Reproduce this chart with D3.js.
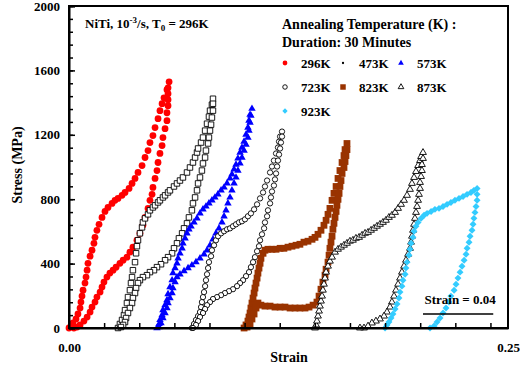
<!DOCTYPE html>
<html lang="en">
<head>
<meta charset="UTF-8">
<script src="https://cdn.jsdelivr.net/npm/d3@7"></script>
<style>
  body { margin: 0; background: #fff; }
  svg text { font-family: "Liberation Serif", "Times New Roman", serif; font-weight: bold; fill: #000; }
</style>
</head>
<body>
<div id="chart"></div>
<script>
// [strain, stress MPa]; loading branch then unloading branch
const k296Load = [[0,0],[.0011,12],[.0023,31],[.0040,56],[.0051,87],[.0063,124],[.0068,161],[.0074,198],[.0080,235],[.0091,279],[.0097,316],[.0103,359],[.0108,402],[.0120,446],[.0131,483],[.0142,526],[.0148,563],[.0159,607],[.0171,644],[.0188,687],[.0205,724],[.0222,749],[.0245,774],[.0262,793],[.0279,805],[.0302,824],[.0319,842],[.0342,867],[.0359,898],[.0376,929],[.0393,966],[.0416,1009],[.0433,1059],[.0450,1102],[.0461,1152],[.0478,1195],[.0490,1245],[.0507,1300],[.0518,1350],[.0530,1393],[.0541,1430],[.0558,1480],[.0570,1529]];
const k296Unload = [[.0564,1492],[.0564,1455],[.0564,1418],[.0564,1381],[.0558,1337],[.0558,1288],[.0547,1238],[.0535,1183],[.0530,1133],[.0518,1084],[.0507,1028],[.0501,978],[.0490,929],[.0478,873],[.0473,830],[.0461,793],[.0450,743],[.0433,687],[.0421,638],[.0404,588],[.0387,545],[.0364,502],[.0347,471],[.0330,440],[.0308,421],[.0290,402],[.0268,378],[.0251,359],[.0233,341],[.0216,316],[.0199,285],[.0188,254],[.0177,223],[.0159,192],[.0148,161],[.0131,130],[.0120,99],[.0103,68],[.0085,43],[.0063,19],[.0046,6],[.0028,0]];

const k473Load = [[.0279,0],[.0290,25],[.0302,50],[.0313,80],[.0319,111],[.0330,155],[.0336,192],[.0347,235],[.0353,279],[.0359,316],[.0364,359],[.0376,409],[.0382,464],[.0387,508],[.0393,545],[.0404,588],[.0416,625],[.0421,656],[.0433,681],[.0450,706],[.0461,731],[.0478,749],[.0490,762],[.0507,780],[.0518,793],[.0535,811],[.0547,824],[.0564,842],[.0575,855],[.0598,879],[.0615,898],[.0632,916],[.0649,935],[.0672,966],[.0689,997],[.0706,1028],[.0718,1059],[.0729,1090],[.0735,1115],[.0752,1152],[.0763,1183],[.0775,1226],[.0786,1269],[.0797,1313],[.0803,1350],[.0814,1387],[.0820,1424]];
const k473Unload = [[.0820,1393],[.0820,1350],[.0814,1307],[.0809,1263],[.0803,1226],[.0797,1183],[.0792,1146],[.0780,1102],[.0775,1059],[.0763,1022],[.0757,978],[.0746,935],[.0735,898],[.0729,855],[.0718,811],[.0706,774],[.0700,731],[.0683,687],[.0672,650],[.0655,619],[.0644,588],[.0626,557],[.0615,526],[.0598,495],[.0587,464],[.0564,440],[.0547,421],[.0524,396],[.0501,378],[.0484,359],[.0461,347],[.0444,328],[.0421,316],[.0404,297],[.0393,279],[.0382,248],[.0376,217],[.0364,186],[.0359,155],[.0347,124],[.0336,93],[.0325,62],[.0319,37],[.0308,19],[.0296,6]];

const k573Load = [[.0501,0],[.0513,25],[.0518,50],[.0530,80],[.0535,111],[.0547,142],[.0558,173],[.0564,211],[.0575,254],[.0587,297],[.0592,341],[.0604,372],[.0615,402],[.0621,433],[.0632,464],[.0644,495],[.0649,526],[.0661,557],[.0672,588],[.0683,613],[.0695,632],[.0712,656],[.0729,681],[.0746,712],[.0763,737],[.0780,755],[.0797,774],[.0814,793],[.0831,811],[.0848,830],[.0866,855],[.0883,873],[.0900,898],[.0917,929],[.0928,954],[.0940,985],[.0951,1015],[.0962,1053],[.0974,1090],[.0985,1121],[.0997,1158],[.1008,1201],[.1019,1245],[.1025,1288],[.1031,1325],[.1042,1362]];
const k573Unload = [[.1036,1319],[.1031,1276],[.1025,1226],[.1019,1183],[.1008,1139],[.0997,1102],[.0985,1059],[.0974,1022],[.0962,978],[.0951,935],[.0940,898],[.0928,855],[.0917,811],[.0905,774],[.0894,731],[.0883,694],[.0871,656],[.0854,619],[.0837,588],[.0820,551],[.0803,514],[.0786,483],[.0769,458],[.0746,433],[.0723,409],[.0700,390],[.0678,372],[.0655,353],[.0632,334],[.0615,316],[.0604,285],[.0592,248],[.0587,217],[.0575,186],[.0564,155],[.0558,124],[.0547,93],[.0535,62],[.0524,31],[.0513,6]];

const k723Load = [[.0700,0],[.0712,25],[.0723,50],[.0735,74],[.0746,99],[.0752,130],[.0757,161],[.0763,192],[.0769,223],[.0775,260],[.0780,297],[.0786,334],[.0792,372],[.0797,409],[.0809,446],[.0814,483],[.0826,514],[.0837,545],[.0849,570],[.0866,588],[.0883,601],[.0900,613],[.0917,619],[.0934,632],[.0951,644],[.0968,656],[.0985,663],[.1002,675],[.1019,694],[.1036,712],[.1054,737],[.1071,768],[.1088,805],[.1105,842],[.1116,879],[.1128,916],[.1145,966],[.1156,1003],[.1167,1040],[.1179,1084],[.1190,1121],[.1196,1158],[.1202,1189],[.1213,1220]];
const k723Unload = [[.1213,1189],[.1207,1152],[.1202,1115],[.1196,1077],[.1190,1040],[.1185,1003],[.1179,960],[.1173,923],[.1167,885],[.1156,848],[.1150,811],[.1145,774],[.1133,731],[.1128,694],[.1116,656],[.1111,619],[.1099,582],[.1088,545],[.1082,508],[.1071,477],[.1059,440],[.1048,409],[.1036,378],[.1025,347],[.1008,322],[.0991,297],[.0974,279],[.0957,260],[.0934,241],[.0911,229],[.0888,217],[.0866,204],[.0843,192],[.0820,180],[.0803,161],[.0786,142],[.0775,118],[.0763,93],[.0746,68],[.0735,43],[.0723,19],[.0706,0]];

const k823Load = [[.0997,0],[.1008,19],[.1019,43],[.1025,68],[.1031,93],[.1036,124],[.1042,155],[.1048,186],[.1054,217],[.1059,248],[.1065,279],[.1071,310],[.1076,341],[.1082,372],[.1088,402],[.1093,433],[.1105,464],[.1116,483],[.1133,489],[.1156,489],[.1179,489],[.1202,495],[.1224,495],[.1247,502],[.1270,508],[.1293,514],[.1315,520],[.1338,533],[.1361,539],[.1384,551],[.1401,563],[.1418,582],[.1435,607],[.1452,638],[.1464,669],[.1475,706],[.1486,743],[.1498,793],[.1509,836],[.1521,879],[.1532,929],[.1543,978],[.1555,1028],[.1566,1071],[.1572,1108],[.1583,1146]];
const k823Unload = [[.1583,1108],[.1577,1071],[.1572,1034],[.1566,997],[.1555,960],[.1549,916],[.1543,879],[.1538,836],[.1532,799],[.1526,762],[.1521,724],[.1515,687],[.1509,650],[.1503,613],[.1498,570],[.1492,533],[.1486,495],[.1481,452],[.1475,409],[.1464,365],[.1458,328],[.1446,285],[.1435,241],[.1424,198],[.1412,161],[.1390,142],[.1367,130],[.1344,124],[.1315,124],[.1287,124],[.1259,124],[.1230,130],[.1202,130],[.1173,130],[.1145,136],[.1116,136],[.1093,142],[.1076,155],[.1065,124],[.1054,87],[.1042,56],[.1031,25],[.1014,6]];

const k873Load = [[.1401,0],[.1407,19],[.1412,43],[.1418,74],[.1424,105],[.1429,136],[.1435,167],[.1441,198],[.1446,235],[.1452,272],[.1458,310],[.1464,347],[.1475,384],[.1486,415],[.1498,440],[.1515,471],[.1532,489],[.1549,502],[.1566,514],[.1583,526],[.1600,539],[.1617,545],[.1634,557],[.1652,563],[.1669,576],[.1686,588],[.1703,594],[.1720,607],[.1737,619],[.1754,632],[.1771,644],[.1788,656],[.1805,669],[.1822,687],[.1839,700],[.1857,718],[.1874,743],[.1891,768],[.1908,793],[.1925,824],[.1942,861],[.1953,898],[.1965,935],[.1976,972],[.1988,1009],[.1999,1040],[.2005,1065],[.2016,1090]];
const k873Unload = [[.2016,1053],[.2010,1015],[.2010,978],[.2005,941],[.1999,904],[.1999,867],[.1993,830],[.1988,793],[.1982,755],[.1976,718],[.1970,681],[.1965,644],[.1959,607],[.1953,570],[.1948,533],[.1942,495],[.1931,458],[.1919,421],[.1908,384],[.1896,347],[.1885,310],[.1874,272],[.1862,235],[.1851,198],[.1839,161],[.1828,130],[.1811,99],[.1794,74],[.1771,56],[.1748,43],[.1725,31],[.1703,12],[.1680,0],[.1657,0]];

const k923Load = [[.1800,0],[.1811,19],[.1822,37],[.1834,62],[.1845,87],[.1857,118],[.1868,149],[.1879,186],[.1885,223],[.1896,260],[.1902,297],[.1914,334],[.1919,372],[.1925,409],[.1936,452],[.1942,489],[.1948,526],[.1959,563],[.1965,601],[.1976,632],[.1988,656],[.2005,681],[.2022,700],[.2039,712],[.2062,724],[.2084,737],[.2107,743],[.2130,755],[.2153,768],[.2175,780],[.2198,793],[.2221,805],[.2244,817],[.2267,830],[.2289,842],[.2306,855],[.2324,867]];
const k923Unload = [[.2324,830],[.2324,793],[.2318,755],[.2312,718],[.2306,681],[.2301,644],[.2295,607],[.2284,570],[.2278,533],[.2267,495],[.2261,458],[.2250,421],[.2238,384],[.2227,347],[.2215,310],[.2204,272],[.2193,235],[.2175,198],[.2164,161],[.2147,124],[.2130,93],[.2113,62],[.2096,37],[.2079,12],[.2056,0]];

const tempLabels = ["296K", "473K", "573K", "723K", "823K", "873K", "923K"];
const yTicks = [0, 400, 800, 1200, 1600, 2000];
const xTickLabels = [0, 0.25];
const scaleBar = [0.2016, 0.2416]; // strain = 0.04 bar
const scaleBarStress = 87;

const series = [
  { label: tempLabels[0], pts: k296Load.concat(k296Unload) },
  { label: tempLabels[1], pts: k473Load.concat(k473Unload) },
  { label: tempLabels[2], pts: k573Load.concat(k573Unload) },
  { label: tempLabels[3], pts: k723Load.concat(k723Unload) },
  { label: tempLabels[4], pts: k823Load.concat(k823Unload) },
  { label: tempLabels[5], pts: k873Load.concat(k873Unload) },
  { label: tempLabels[6], pts: k923Load.concat(k923Unload) }
];

// marker styles per temperature
const styles = {
  "296K": { type: d3.symbolCircle, size: 36, fill: "#ff0000", stroke: "none", lsize: 18 },
  "473K": { type: d3.symbolSquare, size: 30, fill: "#fff", stroke: "#000", lsize: 4, ltype: d3.symbolCircle, lfill: "#000" },
  "573K": { type: d3.symbolTriangle, size: 24, fill: "#0000ff", stroke: "none", lsize: 14 },
  "723K": { type: d3.symbolCircle, size: 22, fill: "#fff", stroke: "#000", lsize: 16 },
  "823K": { type: d3.symbolSquare, size: 46, fill: "#993300", stroke: "none", lsize: 30 },
  "873K": { type: d3.symbolTriangle, size: 20, fill: "#fff", stroke: "#000", lsize: 14 },
  "923K": { type: d3.symbolSquare, size: 24, fill: "#33ccff", stroke: "none", lsize: 14, rot: 45 }
};

const W = 520, H = 370;
const margin = { top: 6, right: 12, bottom: 42, left: 69 };
const width = W - margin.left - margin.right,
      height = H - margin.top - margin.bottom;

const svg = d3.select("#chart").append("svg")
  .attr("width", W).attr("height", H);
const g = svg.append("g").attr("transform", "translate(" + margin.left + "," + margin.top + ")");

const x = d3.scaleLinear().domain([0, 0.25]).range([0, width]);
const y = d3.scaleLinear().domain([0, 2000]).range([height, 0]);

// curves
series.forEach(s => {
  const st = styles[s.label];
  g.append("g").selectAll("path")
    .data(s.pts)
    .enter().append("path")
    .attr("d", d3.symbol().type(st.type).size(st.size))
    .attr("transform", d => "translate(" + x(d[0]) + "," + y(d[1]) + ")" + (st.rot ? " rotate(" + st.rot + ")" : ""))
    .attr("fill", st.fill)
    .attr("stroke", st.stroke)
    .attr("stroke-width", 0.9);
});

// axes
const yAxis = g.append("g")
  .call(d3.axisLeft(y).tickValues(yTicks).tickSize(-6).tickPadding(9).tickFormat(d3.format("d")));
yAxis.selectAll("text").style("font-size", "13px");
g.append("g")
  .call(d3.axisLeft(y).tickValues(d3.range(0, 2001, 80)).tickSize(-4).tickFormat(""))
  .select(".domain").remove();

const xAxis = g.append("g").attr("transform", "translate(0," + height + ")")
  .call(d3.axisBottom(x).tickValues(xTickLabels).tickSize(0).tickPadding(15).tickFormat(d3.format(".2f")));
xAxis.selectAll("text").style("font-size", "13px");
g.append("g").attr("transform", "translate(0," + height + ")")
  .call(d3.axisBottom(x).tickValues(d3.range(0.02, 0.245, 0.02)).tickSize(-5).tickFormat(""))
  .select(".domain").remove();

g.selectAll(".domain").attr("stroke-width", 2);
g.selectAll(".tick line").attr("stroke-width", 1.5);

// frame
g.append("rect").attr("width", width).attr("height", height)
  .attr("fill", "none").attr("stroke", "#000").attr("stroke-width", 2);

// axis titles
svg.append("text").attr("x", 289).attr("y", 362)
  .attr("text-anchor", "middle").style("font-size", "14px").text("Strain");
svg.append("text").attr("transform", "translate(22,165) rotate(-90)")
  .attr("text-anchor", "middle").style("font-size", "14px").text("Stress (MPa)");

// annotation
const ann = g.append("text").attr("x", 16).attr("y", 22).style("font-size", "13px");
ann.append("tspan").text("NiTi, 10");
ann.append("tspan").attr("dy", -5).style("font-size", "9px").text("-3");
ann.append("tspan").attr("dy", 5).text("/s, T");
ann.append("tspan").attr("dy", 3).style("font-size", "9px").text("0");
ann.append("tspan").attr("dy", -3).text(" = 296K");

// legend
const lg = g.append("g");
lg.append("text").attr("x", 213).attr("y", 23).style("font-size", "14px").text("Annealing Temperature (K) :");
lg.append("text").attr("x", 213).attr("y", 41).style("font-size", "14px").text("Duration: 30 Minutes");
tempLabels.forEach((lab, i) => {
  const st = styles[lab];
  const col = i % 3, row = Math.floor(i / 3);
  const sx = 216 + col * 58, sy = 57 + row * 24;
  lg.append("path")
    .attr("d", d3.symbol().type(st.ltype || st.type).size(st.lsize))
    .attr("transform", "translate(" + sx + "," + sy + ")" + (st.rot ? " rotate(" + st.rot + ")" : ""))
    .attr("fill", st.lfill || st.fill)
    .attr("stroke", st.ltype ? "none" : st.stroke)
    .attr("stroke-width", 0.9);
  lg.append("text").attr("x", sx + 16).attr("y", sy + 5).style("font-size", "13px").text(lab);
});

// strain scale bar
g.append("line")
  .attr("x1", x(scaleBar[0])).attr("x2", x(scaleBar[1]))
  .attr("y1", y(scaleBarStress)).attr("y2", y(scaleBarStress))
  .attr("stroke", "#000").attr("stroke-width", 1.5);
g.append("text").attr("x", (x(scaleBar[0]) + x(scaleBar[1])) / 2 + 2).attr("y", y(scaleBarStress) - 10)
  .attr("text-anchor", "middle").style("font-size", "13px").text("Strain = 0.04");
</script>
</body>
</html>
